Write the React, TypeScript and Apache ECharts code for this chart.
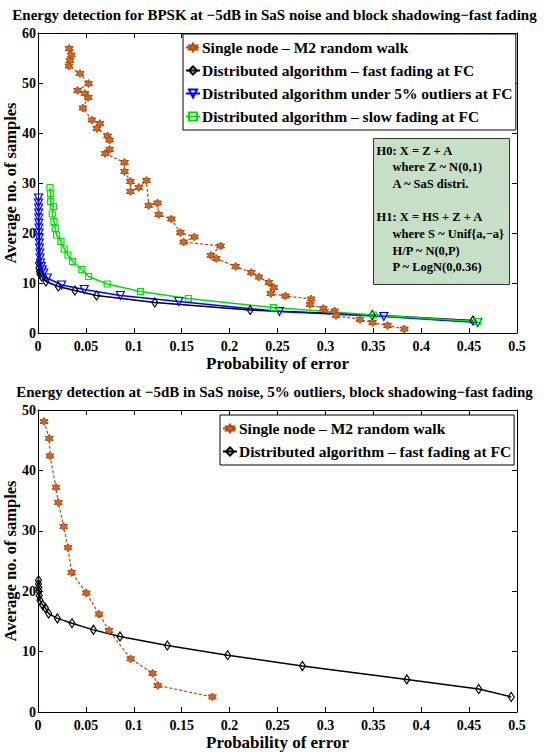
import React, { useEffect, useRef } from 'react';
import * as echarts from 'echarts';

const FONT = '"Liberation Serif", "Times New Roman", serif';

const topTitle = 'Energy detection for BPSK at −5dB in SaS noise and block shadowing−fast fading';
const bottomTitle = 'Energy detection at −5dB in SaS noise, 5% outliers, block shadowing−fast fading';
const xName = 'Probability of error';
const yName = 'Average no. of samples';
const nameSingle = 'Single node – M2 random walk';
const nameFast = 'Distributed algorithm – fast fading at FC';
const nameOut = 'Distributed algorithm under 5% outliers at FC';
const nameSlow = 'Distributed algorithm – slow fading at FC';

// ---- Top plot data ----
const topSingleX = [0.0326, 0.0347, 0.0333, 0.0323, 0.0438, 0.0528, 0.0413, 0.049, 0.0524, 0.0469, 0.0563, 0.0646, 0.0615, 0.0726, 0.0747, 0.0747, 0.0701, 0.0903, 0.0903, 0.0965, 0.0965, 0.1052, 0.1132, 0.1156, 0.1247, 0.126, 0.1392, 0.1486, 0.1632, 0.152, 0.1906, 0.1805, 0.1861, 0.2063, 0.2226, 0.2306, 0.241, 0.2462, 0.243, 0.2583, 0.2851, 0.284, 0.2979, 0.3097, 0.3111, 0.3361, 0.3493, 0.3649, 0.3823];
const topSingleY = [56.9, 55.6, 54.5, 53.4, 51.9, 49.9, 48.5, 47.9, 47.1, 45.0, 42.6, 41.9, 40.9, 39.4, 38.6, 36.7, 35.9, 34.1, 32.3, 30.3, 28.3, 29.1, 30.5, 25.5, 26.0, 23.7, 22.8, 20.1, 19.2, 18.2, 17.4, 15.5, 14.9, 13.3, 12.1, 11.2, 10.1, 9.1, 7.9, 7.4, 6.8, 5.7, 4.9, 4.4, 3.5, 2.7, 2.1, 1.5, 0.8];

const topFastX = [0.0005, 0.001, 0.0015, 0.002, 0.0038, 0.0083, 0.0212, 0.0385, 0.0611, 0.1219, 0.2215, 0.349, 0.454];
const topFastY = [14.0, 13.0, 12.3, 11.8, 11.3, 10.3, 9.3, 8.5, 7.5, 6.1, 4.6, 3.6, 2.5];

const topOutX = [0.0005, 0.0005, 0.0006, 0.0007, 0.0008, 0.0009, 0.001, 0.0011, 0.0012, 0.0014, 0.0016, 0.0019, 0.0022, 0.0027, 0.0034, 0.0045, 0.006, 0.0097, 0.0247, 0.0483, 0.086, 0.147, 0.252, 0.361, 0.459];
const topOutY = [27.0, 26.0, 25.0, 24.0, 23.0, 22.0, 21.0, 20.0, 19.0, 18.0, 17.0, 16.0, 15.0, 14.0, 13.3, 12.6, 12.0, 11.0, 9.6, 8.7, 7.5, 6.3, 4.3, 3.3, 2.1];

const topSlowX = [0.0125, 0.0132, 0.0132, 0.016, 0.0149, 0.0167, 0.018, 0.0194, 0.024, 0.0274, 0.0313, 0.0361, 0.0458, 0.0528, 0.0722, 0.107, 0.157, 0.2458, 0.35, 0.459];
const topSlowY = [29.1, 27.9, 26.3, 25.3, 23.8, 22.3, 20.9, 19.6, 18.3, 16.8, 15.6, 14.3, 12.7, 11.3, 9.8, 8.3, 6.9, 5.1, 3.6, 2.3];

// ---- Bottom plot data ----
const botSingleX = [0.0063, 0.0118, 0.0125, 0.0188, 0.0212, 0.0268, 0.0313, 0.0351, 0.0504, 0.0637, 0.0741, 0.0968, 0.1197, 0.125, 0.182];
const botSingleY = [48.1, 45.3, 42.4, 37.2, 34.7, 30.7, 27.2, 23.1, 19.7, 16.2, 13.5, 8.8, 6.4, 4.4, 2.5];

const botFastX = [0.0005, 0.0005, 0.0007, 0.001, 0.0013, 0.002, 0.0049, 0.0077, 0.0111, 0.0202, 0.0355, 0.0578, 0.0856, 0.135, 0.198, 0.276, 0.385, 0.46, 0.494];
const botFastY = [21.8, 21.2, 20.6, 20.0, 19.3, 18.5, 17.7, 17.2, 16.3, 15.5, 14.7, 13.6, 12.5, 11.0, 9.4, 7.6, 5.4, 3.8, 2.5];

const annotationLines = [
  { text: 'H0: X = Z + A', indent: false },
  { text: 'where Z ~ N(0,1)', indent: true },
  { text: 'A ~ SaS distri.', indent: true },
  { text: '', indent: false },
  { text: 'H1: X = HS + Z + A', indent: false },
  { text: 'where S ~ Unif{a,−a}', indent: true },
  { text: 'H/P ~ N(0,P)', indent: true },
  { text: 'P ~ LogN(0,0.36)', indent: true },
];

const zip = (xs: number[], ys: number[]) => xs.map((x, i) => [x, ys[i]]);

const ORANGE = '#b4490f';
const HEX = 'path://M0,-10L2.887,-5L8.66,-5L5.774,0L8.66,5L2.887,5L0,10L-2.887,5L-8.66,5L-5.774,0L-8.66,-5L-2.887,-5Z';
const CLEAR = 'rgba(255,255,255,0)';

const labelStyle = { color: '#000', fontFamily: FONT, fontWeight: 'bold' as const, fontSize: 14 };

function xAxes(gridIndex: number) {
  const base = {
    type: 'value' as const, gridIndex, min: 0, max: 0.5, interval: 0.05,
    axisLine: { show: true, onZero: false, lineStyle: { color: '#000', width: 1 } },
    axisTick: { show: true, inside: true, length: 5, lineStyle: { color: '#000' } },
    splitLine: { show: false },
  };
  return [
    { ...base, position: 'bottom', axisLabel: { ...labelStyle, margin: 6 },
      name: xName, nameLocation: 'middle', nameGap: 22,
      nameTextStyle: { ...labelStyle, fontSize: 17 } },
    { ...base, position: 'top', axisLabel: { show: false } },
  ];
}

function yAxes(gridIndex: number, max: number) {
  const base = {
    type: 'value' as const, gridIndex, min: 0, max, interval: 10,
    axisLine: { show: true, onZero: false, lineStyle: { color: '#000', width: 1 } },
    axisTick: { show: true, inside: true, length: 5, lineStyle: { color: '#000' } },
    splitLine: { show: false },
  };
  return [
    { ...base, position: 'left', axisLabel: { ...labelStyle, margin: 2 },
      name: yName, nameLocation: 'middle', nameGap: 19, nameRotate: 90, nameMoveOverlap: false,
      nameTextStyle: { ...labelStyle, fontSize: 16.5 } },
    { ...base, position: 'right', axisLabel: { show: false } },
  ];
}

function singleSeries(data: number[][], xi: number, yi: number) {
  return {
    name: nameSingle, type: 'line', xAxisIndex: xi, yAxisIndex: yi, data,
    symbol: HEX, symbolSize: 8,
    itemStyle: { color: '#c9692a', borderColor: ORANGE, borderWidth: 1 },
    lineStyle: { color: ORANGE, width: 1.2, type: [3, 2] },
  };
}
function fastSeries(data: number[][], xi: number, yi: number) {
  return {
    name: nameFast, type: 'line', xAxisIndex: xi, yAxisIndex: yi, data,
    symbol: 'diamond', symbolSize: [6, 9],
    itemStyle: { color: CLEAR, borderColor: '#000', borderWidth: 1.2 },
    lineStyle: { color: '#000', width: 1.5 },
  };
}

export default function App() {
  const ref = useRef<HTMLDivElement>(null);
  useEffect(() => {
    if (!ref.current) return;
    const chart = echarts.init(ref.current, undefined, { renderer: 'svg' });
    const legendText = { fontFamily: FONT, fontWeight: 'bold' as const, fontSize: 15.5, color: '#000', lineHeight: 17, padding: [0, 0, 0, -3] };
    const legendBase = {
      orient: 'vertical', itemWidth: 14, itemHeight: 10, itemGap: 6, padding: [5, 3, 5, 2],
      borderColor: '#000', borderWidth: 1, backgroundColor: '#fff', borderRadius: 0,
      textStyle: legendText, selectedMode: false,
    };
    const option: any = {
      animation: false,
      backgroundColor: '#fff',
      title: [
        { text: topTitle, left: 'center', top: 2, textStyle: { ...labelStyle, fontSize: 15 } },
        { text: bottomTitle, left: 'center', top: 379, textStyle: { ...labelStyle, fontSize: 15 } },
      ],
      grid: [
        { left: 38, top: 33, width: 479, height: 300, containLabel: false, outerBoundsMode: 'none' },
        { left: 38, top: 410, width: 479, height: 302, containLabel: false, outerBoundsMode: 'none' },
      ],
      xAxis: [...xAxes(0), ...xAxes(1)],
      yAxis: [...yAxes(0, 60), ...yAxes(1, 50)],
      legend: [
        { ...legendBase, data: [nameSingle, nameFast, nameOut, nameSlow], left: 183, top: 34 },
        { ...legendBase, data: [nameSingle, nameFast], left: 220, top: 415 },
      ],
      series: [
        singleSeries(zip(topSingleX, topSingleY), 0, 0),
        fastSeries(zip(topFastX, topFastY), 0, 0),
        {
          name: nameOut, type: 'line', xAxisIndex: 0, yAxisIndex: 0, data: zip(topOutX, topOutY),
          symbol: 'triangle', symbolRotate: 180, symbolSize: 8,
          itemStyle: { color: CLEAR, borderColor: '#0000ff', borderWidth: 1.2 },
          lineStyle: { color: '#0000ff', width: 1.5 },
        },
        {
          name: nameSlow, type: 'line', xAxisIndex: 0, yAxisIndex: 0, data: zip(topSlowX, topSlowY),
          symbol: 'rect', symbolSize: 6,
          itemStyle: { color: CLEAR, borderColor: '#00e000', borderWidth: 1.2 },
          lineStyle: { color: '#00e000', width: 1.5 },
        },
        singleSeries(zip(botSingleX, botSingleY), 2, 2),
        fastSeries(zip(botFastX, botFastY), 2, 2),
      ],
      graphic: [
        {
          type: 'group', left: 373, top: 138,
          children: [
            { type: 'rect', shape: { x: 0, y: 0, width: 136, height: 146 },
              style: { fill: '#c6dfc6', stroke: '#333', lineWidth: 1 } },
            ...annotationLines.map((l, i) => ({
              type: 'text', x: l.indent ? 19 : 3, y: 12 + i * 16.7,
              style: { text: l.text, fill: '#000', font: `bold 12.5px ${FONT}`, verticalAlign: 'middle' },
            })),
          ],
        },
      ],
    };
    chart.setOption(option);
    return () => chart.dispose();
  }, []);
  return <div ref={ref} style={{ position: 'fixed', left: 0, top: 0, width: 549, height: 756 }} />;
}
